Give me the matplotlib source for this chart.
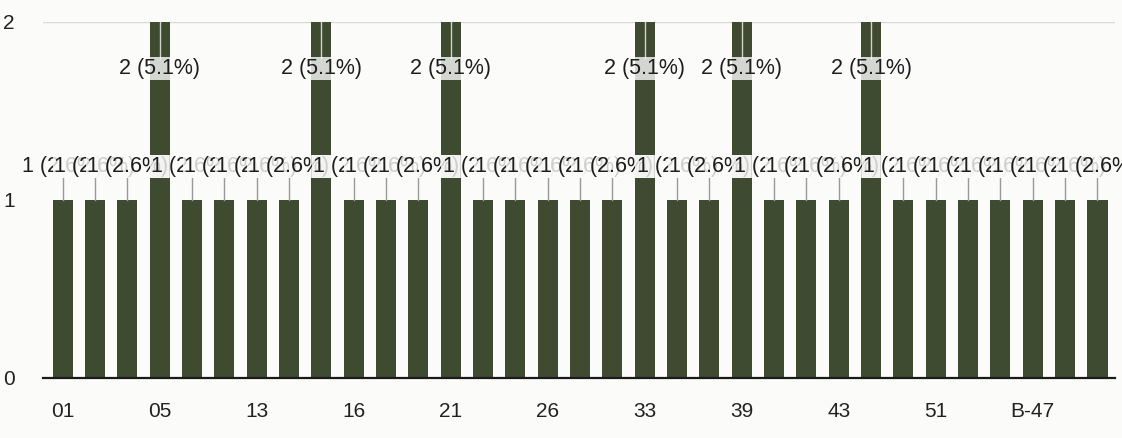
import matplotlib
matplotlib.use("Agg")
import matplotlib.pyplot as plt
import numpy as np

categories = ["01", "02", "03", "05", "07", "09", "13", "14", "15", "16", "18", "19",
              "21", "22", "24", "26", "28", "31", "33", "35", "37", "39", "40", "41",
              "43", "45", "48", "51", "53", "55", "B-47", "B-50", "B-52"]
values = [1, 1, 1, 2, 1, 1, 1, 1, 2, 1, 1, 1,
          2, 1, 1, 1, 1, 1, 2, 1, 1, 2, 1, 1,
          1, 2, 1, 1, 1, 1, 1, 1, 1]
total = sum(values)
labels = [f"{v} ({v / total * 100:.1f}%)" for v in values]
yticks = [0, 1, 2]

plt.rcParams['font.family'] = ['Liberation Sans', 'DejaVu Sans']

fig = plt.figure(figsize=(11.22, 4.38), dpi=100)
fig.patch.set_facecolor("#fbfbfa")
ax = fig.add_axes([0.038, 0.137, 0.956, 0.813])
ax.set_facecolor("#fbfbfa")

x = np.arange(len(categories))
bar_color = "#3f4b31"
ax.bar(x, values, width=0.62, color=bar_color, zorder=2)

ax.set_ylim(0, 2)
ax.set_xlim(-0.62, len(categories) - 0.45)
ax.set_yticks(yticks)
ax.set_yticklabels([str(t) for t in yticks], fontsize=15, color="#222222")
ax.axhline(2, color="#d8d8d8", lw=1, zorder=1)

ax.set_xticks(x[::3])
ax.set_xticklabels(categories[::3], fontsize=15, color="#222222")
ax.tick_params(axis="both", length=0)
ax.tick_params(axis="x", pad=17)
ax.tick_params(axis="y", pad=20)

for s in ["top", "right", "left"]:
    ax.spines[s].set_visible(False)
ax.spines["bottom"].set_color("#1a1a1a")
ax.spines["bottom"].set_linewidth(1.6)

for xi, v, lab in zip(x, values, labels):
    if v >= 2:
        ly = v - 0.26
        ax.plot([xi, xi], [ly + 0.06, v], color="#cfd3c8", lw=1, zorder=3)
    else:
        ly = v + 0.19
        ax.plot([xi, xi], [v, ly - 0.05], color="#9a9a9a", lw=1, zorder=3)
    ax.text(xi, ly, lab, ha="center", va="center", fontsize=15.5, color="#1e1e1e",
            zorder=4, bbox=dict(boxstyle="square,pad=0.05", fc="#fbfbfa", ec="none", alpha=0.8))

fig.savefig("out.png", dpi=100, facecolor=fig.get_facecolor())
